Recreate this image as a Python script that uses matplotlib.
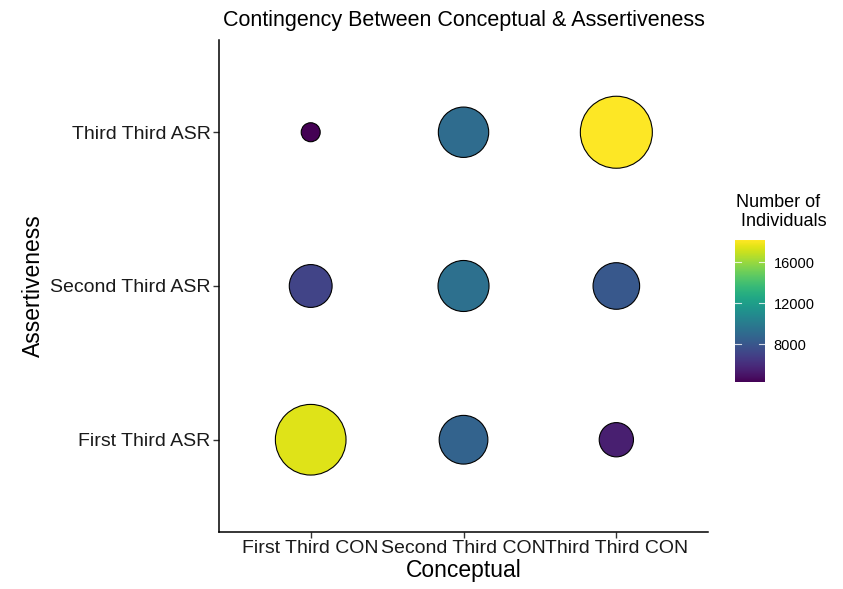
import numpy as np
import matplotlib
matplotlib.use("Agg")
import matplotlib.pyplot as plt

plt.rcParams['font.family'] = ['Liberation Sans', 'DejaVu Sans']

# categories
con_labels = ["First Third CON", "Second Third CON", "Third Third CON"]
asr_labels = ["First Third ASR", "Second Third ASR", "Third Third ASR"]

# counts, rows = ASR (first, second, third), cols = CON (first, second, third)
counts_first_asr = [17450, 8650, 5450]
counts_second_asr = [7100, 9350, 8050]
counts_third_asr = [4300, 9150, 18150]

counts = np.array([counts_first_asr, counts_second_asr, counts_third_asr])
xi, yi = np.meshgrid(np.arange(3), np.arange(3))
xs = xi.ravel()
ys = yi.ravel()
vals = counts.ravel()

# ggplot-like size scale: diameter linear in sqrt(rescaled value)
vmin, vmax = vals.min(), vals.max()
t = (vals - vmin) / (vmax - vmin)
dmin, dmax = 19, 72  # pixels
diam_pt = (dmin + np.sqrt(t) * (dmax - dmin)) * 0.72
sizes = diam_pt ** 2

fig = plt.figure(figsize=(8.43, 5.89), dpi=100)
ax = fig.add_axes([0.2598, 0.0968, 0.5801, 0.8353])

sc = ax.scatter(xs, ys, s=sizes, c=vals, cmap="viridis", vmin=vmin, vmax=vmax,
                edgecolors="black", linewidths=0.8, zorder=3)

ax.set_xlim(-0.6, 2.6)
ax.set_ylim(-0.6, 2.6)
ax.set_xticks(range(3))
ax.set_xticklabels(con_labels, fontsize=14, color="#1a1a1a")
ax.set_yticks(range(3))
ax.set_yticklabels(asr_labels, fontsize=14, color="#1a1a1a")
for s in ["top", "right"]:
    ax.spines[s].set_visible(False)
for s in ["left", "bottom"]:
    ax.spines[s].set_linewidth(1.1)
ax.tick_params(length=4, width=1, color="#333333", pad=2)

ax.set_xlabel("Conceptual", fontsize=16.5, labelpad=1)
ax.set_ylabel("Assertiveness", fontsize=16.5, labelpad=4)
ax.set_title("Contingency Between Conceptual & Assertiveness", fontsize=15.5, pad=10)

# colorbar
cax = fig.add_axes([0.872, 0.351, 0.0356, 0.241])
cb = fig.colorbar(sc, cax=cax)
cb.set_ticks([8000, 12000, 16000])
cb.outline.set_visible(False)
cax.tick_params(length=0, labelsize=10.5, pad=6)
for v in [8000, 12000, 16000]:
    cax.plot([0, 0.2], [v, v], color="white", lw=0.8, alpha=0.8)
    cax.plot([0.8, 1], [v, v], color="white", lw=0.8, alpha=0.8)
fig.text(0.873, 0.61, "Number of\n Individuals", fontsize=13, ha="left", va="bottom",
         linespacing=1.15)

fig.savefig("out.png", dpi=100)
